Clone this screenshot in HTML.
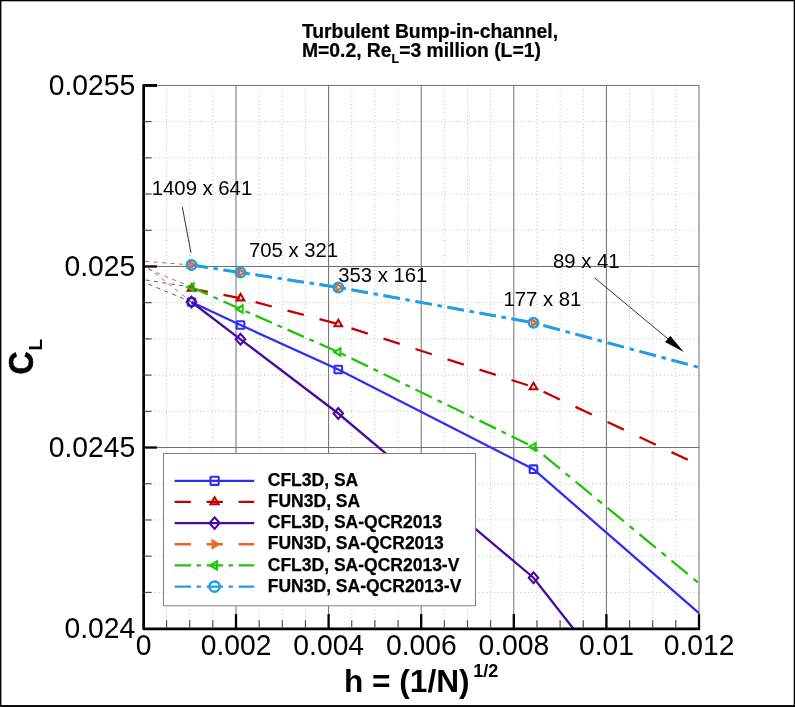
<!DOCTYPE html>
<html><head><meta charset="utf-8"><title>Turbulent Bump-in-channel</title>
<style>
html,body{margin:0;padding:0;background:#fff;}
body{width:795px;height:707px;overflow:hidden;font-family:"Liberation Sans",sans-serif;}
svg{display:block;font-family:"Liberation Sans",sans-serif;will-change:transform;}
text{font-family:"Liberation Sans",sans-serif;fill:#000;}
.b{font-weight:bold;}
</style></head><body>
<svg width="795" height="707" viewBox="0 0 795 707">
<rect x="0" y="0" width="795" height="707" fill="#fff"/>
<g stroke="#bcbcbc" stroke-width="1" stroke-dasharray="1 2.77" fill="none">
<line x1="166.55" y1="85.40" x2="166.55" y2="628.60"/>
<line x1="189.70" y1="85.40" x2="189.70" y2="628.60"/>
<line x1="212.85" y1="85.40" x2="212.85" y2="628.60"/>
<line x1="259.15" y1="85.40" x2="259.15" y2="628.60"/>
<line x1="282.30" y1="85.40" x2="282.30" y2="628.60"/>
<line x1="305.45" y1="85.40" x2="305.45" y2="628.60"/>
<line x1="351.75" y1="85.40" x2="351.75" y2="628.60"/>
<line x1="374.90" y1="85.40" x2="374.90" y2="628.60"/>
<line x1="398.05" y1="85.40" x2="398.05" y2="628.60"/>
<line x1="444.35" y1="85.40" x2="444.35" y2="628.60"/>
<line x1="467.50" y1="85.40" x2="467.50" y2="628.60"/>
<line x1="490.65" y1="85.40" x2="490.65" y2="628.60"/>
<line x1="536.95" y1="85.40" x2="536.95" y2="628.60"/>
<line x1="560.10" y1="85.40" x2="560.10" y2="628.60"/>
<line x1="583.25" y1="85.40" x2="583.25" y2="628.60"/>
<line x1="629.55" y1="85.40" x2="629.55" y2="628.60"/>
<line x1="652.70" y1="85.40" x2="652.70" y2="628.60"/>
<line x1="675.85" y1="85.40" x2="675.85" y2="628.60"/>
<line x1="143.40" y1="592.39" x2="699.00" y2="592.39"/>
<line x1="143.40" y1="556.17" x2="699.00" y2="556.17"/>
<line x1="143.40" y1="519.96" x2="699.00" y2="519.96"/>
<line x1="143.40" y1="483.75" x2="699.00" y2="483.75"/>
<line x1="143.40" y1="411.32" x2="699.00" y2="411.32"/>
<line x1="143.40" y1="375.11" x2="699.00" y2="375.11"/>
<line x1="143.40" y1="338.89" x2="699.00" y2="338.89"/>
<line x1="143.40" y1="302.68" x2="699.00" y2="302.68"/>
<line x1="143.40" y1="230.25" x2="699.00" y2="230.25"/>
<line x1="143.40" y1="194.04" x2="699.00" y2="194.04"/>
<line x1="143.40" y1="157.83" x2="699.00" y2="157.83"/>
<line x1="143.40" y1="121.61" x2="699.00" y2="121.61"/>
</g>
<g stroke="#6e6e6e" stroke-width="1" fill="none">
<line x1="236.00" y1="85.40" x2="236.00" y2="628.60"/>
<line x1="328.60" y1="85.40" x2="328.60" y2="628.60"/>
<line x1="421.20" y1="85.40" x2="421.20" y2="628.60"/>
<line x1="513.80" y1="85.40" x2="513.80" y2="628.60"/>
<line x1="606.40" y1="85.40" x2="606.40" y2="628.60"/>
<line x1="699.00" y1="85.40" x2="699.00" y2="628.60"/>
<line x1="143.40" y1="447.53" x2="699.00" y2="447.53"/>
<line x1="143.40" y1="266.47" x2="699.00" y2="266.47"/>
<line x1="143.40" y1="85.40" x2="699.00" y2="85.40"/>
</g>
<defs><clipPath id="cp"><rect x="143.40" y="85.40" width="556.80" height="543.20"/></clipPath></defs>
<g fill="none" stroke-width="0.8" stroke-dasharray="4 4.5" clip-path="url(#cp)">
<line x1="191.5" y1="265" x2="143.4" y2="261.2" stroke="#d03030"/>
<line x1="191.5" y1="287.2" x2="143.4" y2="267" stroke="#d03030"/>
<line x1="191.5" y1="302" x2="143.4" y2="264" stroke="#d03030"/>
<line x1="191.5" y1="287.2" x2="143.4" y2="279.6" stroke="#303030"/>
<line x1="191.5" y1="302" x2="143.4" y2="282" stroke="#303030"/>
</g>
<g fill="none" clip-path="url(#cp)" stroke-linecap="butt">
<path d="M191.50 302.00 L240.50 325.00 L338.30 369.50 L533.50 469.20 L699.00 613.20" stroke="#2e2ef5" stroke-width="2.3"/>
<path d="M191.50 288.60 L207.80 291.79 M223.50 294.87 L239.80 298.06 M255.50 302.17 L271.80 306.49 M287.50 310.65 L303.80 314.96 M319.50 319.12 L335.80 323.44 M351.50 328.36 L367.80 333.62 M383.50 338.69 L399.80 343.95 M415.50 349.02 L431.80 354.28 M447.50 359.34 L463.80 364.60 M479.50 369.67 L495.80 374.93 M511.50 380.00 L527.80 385.26 M543.50 391.81 L559.80 399.50 M575.50 406.89 L591.80 414.58 M607.50 421.98 L623.80 429.66 M639.50 437.06 L655.80 444.74 M671.50 452.14 L687.80 459.82" stroke="#c40000" stroke-width="2.3"/>
<path d="M191.50 302.00 L240.50 339.30 L338.30 413.50 L533.50 577.70 L573.60 629.00" stroke="#4a0aa0" stroke-width="2.3"/>
<path d="M191.50 265.00 L207.80 267.49 M223.50 269.90 L239.80 272.39 M255.50 274.79 L271.80 277.27 M287.50 279.66 L303.80 282.14 M319.50 284.54 L335.80 287.02 M351.50 289.79 L367.80 292.75 M383.50 295.60 L399.80 298.55 M415.50 301.40 L431.80 304.36 M447.50 307.20 L463.80 310.16 M479.50 313.01 L495.80 315.96 M511.50 318.81 L527.80 321.77 M543.50 325.49 L559.80 329.89 M575.50 334.12 L591.80 338.51 M607.50 342.74 L623.80 347.13 M639.50 351.37 L655.80 355.76 M671.50 359.99 L687.80 364.38" stroke="#ee6420" stroke-width="2.3"/>
<path d="M191.50 287.20 L207.90 294.50 M213.50 296.99 L217.90 298.95 M223.50 301.44 L239.90 308.73 M245.50 311.20 L249.90 313.13 M255.50 315.60 L271.90 322.81 M277.50 325.27 L281.90 327.20 M287.50 329.66 L303.90 336.88 M309.50 339.34 L313.90 341.27 M319.50 343.73 L335.90 350.94 M341.50 353.56 L345.90 355.69 M351.50 358.42 L367.90 366.39 M373.50 369.11 L377.90 371.25 M383.50 373.97 L399.90 381.95 M405.50 384.67 L409.90 386.81 M415.50 389.53 L431.90 397.51 M437.50 400.23 L441.90 402.37 M447.50 405.09 L463.90 413.06 M469.50 415.79 L473.90 417.92 M479.50 420.65 L495.90 428.62 M501.50 431.34 L505.90 433.48 M511.50 436.20 L527.90 444.18 M533.50 446.90 L537.90 450.53 M543.50 455.14 L559.90 468.66 M565.50 473.27 L569.90 476.90 M575.50 481.52 L591.90 495.03 M597.50 499.65 L601.90 503.27 M607.50 507.89 L623.90 521.40 M629.50 526.02 L633.90 529.65 M639.50 534.26 L655.90 547.78 M661.50 552.39 L665.90 556.02 M671.50 560.64 L687.90 574.15 M693.50 578.77 L697.90 582.39" stroke="#20c408" stroke-width="2.3"/>
<path d="M191.50 265.00 L207.90 267.51 M213.50 268.37 L217.90 269.04 M223.50 269.90 L239.90 272.41 M245.50 273.26 L249.90 273.93 M255.50 274.79 L271.90 277.28 M277.50 278.14 L281.90 278.81 M287.50 279.66 L303.90 282.16 M309.50 283.01 L313.90 283.68 M319.50 284.54 L335.90 287.03 M341.50 287.98 L345.90 288.78 M351.50 289.79 L367.90 292.77 M373.50 293.78 L377.90 294.58 M383.50 295.60 L399.90 298.57 M405.50 299.59 L409.90 300.38 M415.50 301.40 L431.90 304.37 M437.50 305.39 L441.90 306.19 M447.50 307.20 L463.90 310.18 M469.50 311.19 L473.90 311.99 M479.50 313.01 L495.90 315.98 M501.50 317.00 L505.90 317.79 M511.50 318.81 L527.90 321.78 M533.50 322.80 L537.90 323.99 M543.50 325.49 L559.90 329.91 M565.50 331.42 L569.90 332.61 M575.50 334.12 L591.90 338.54 M597.50 340.05 L601.90 341.23 M607.50 342.74 L623.90 347.16 M629.50 348.67 L633.90 349.86 M639.50 351.37 L655.90 355.79 M661.50 357.29 L665.90 358.48 M671.50 359.99 L687.90 364.41 M693.50 365.92 L697.90 367.10" stroke="#1ea0e8" stroke-width="3.0"/>
</g>
<g>
<rect x="187.70" y="298.20" width="7.60" height="7.60" rx="0.6" fill="none" stroke="#2e2ef5" stroke-width="2.1" stroke-linejoin="miter"/>
<rect x="236.70" y="321.20" width="7.60" height="7.60" rx="0.6" fill="none" stroke="#2e2ef5" stroke-width="2.1" stroke-linejoin="miter"/>
<rect x="334.50" y="365.70" width="7.60" height="7.60" rx="0.6" fill="none" stroke="#2e2ef5" stroke-width="2.1" stroke-linejoin="miter"/>
<rect x="529.70" y="465.40" width="7.60" height="7.60" rx="0.6" fill="none" stroke="#2e2ef5" stroke-width="2.1" stroke-linejoin="miter"/>
<path d="M187.75 290.73 L195.25 290.73 L191.50 284.33 Z" fill="none" stroke="#c40000" stroke-width="2.1" stroke-linejoin="miter"/>
<path d="M236.75 300.33 L244.25 300.33 L240.50 293.93 Z" fill="none" stroke="#c40000" stroke-width="2.1" stroke-linejoin="miter"/>
<path d="M334.55 326.23 L342.05 326.23 L338.30 319.83 Z" fill="none" stroke="#c40000" stroke-width="2.1" stroke-linejoin="miter"/>
<path d="M529.75 389.23 L537.25 389.23 L533.50 382.83 Z" fill="none" stroke="#c40000" stroke-width="2.1" stroke-linejoin="miter"/>
<path d="M186.80 302.00 L191.50 296.60 L196.20 302.00 L191.50 307.40 Z" fill="none" stroke="#4a0aa0" stroke-width="2.1" stroke-linejoin="miter"/>
<path d="M235.80 339.30 L240.50 333.90 L245.20 339.30 L240.50 344.70 Z" fill="none" stroke="#4a0aa0" stroke-width="2.1" stroke-linejoin="miter"/>
<path d="M333.60 413.50 L338.30 408.10 L343.00 413.50 L338.30 418.90 Z" fill="none" stroke="#4a0aa0" stroke-width="2.1" stroke-linejoin="miter"/>
<path d="M528.80 577.70 L533.50 572.30 L538.20 577.70 L533.50 583.10 Z" fill="none" stroke="#4a0aa0" stroke-width="2.1" stroke-linejoin="miter"/>
<path d="M189.58 261.62 L189.58 268.38 L195.34 265.00 Z" fill="none" stroke="#ee6420" stroke-width="2.1" stroke-linejoin="miter"/>
<path d="M238.58 269.12 L238.58 275.88 L244.34 272.50 Z" fill="none" stroke="#ee6420" stroke-width="2.1" stroke-linejoin="miter"/>
<path d="M336.38 284.02 L336.38 290.77 L342.14 287.40 Z" fill="none" stroke="#ee6420" stroke-width="2.1" stroke-linejoin="miter"/>
<path d="M531.58 319.43 L531.58 326.18 L537.34 322.80 Z" fill="none" stroke="#ee6420" stroke-width="2.1" stroke-linejoin="miter"/>
<path d="M193.63 283.45 L193.63 290.95 L187.23 287.20 Z" fill="none" stroke="#20c408" stroke-width="2.1" stroke-linejoin="miter"/>
<path d="M242.63 305.25 L242.63 312.75 L236.23 309.00 Z" fill="none" stroke="#20c408" stroke-width="2.1" stroke-linejoin="miter"/>
<path d="M340.43 348.25 L340.43 355.75 L334.03 352.00 Z" fill="none" stroke="#20c408" stroke-width="2.1" stroke-linejoin="miter"/>
<path d="M535.63 443.15 L535.63 450.65 L529.23 446.90 Z" fill="none" stroke="#20c408" stroke-width="2.1" stroke-linejoin="miter"/>
<circle cx="191.50" cy="265.00" r="4.75" fill="none" stroke="#1ea0e8" stroke-width="2.5"/>
<circle cx="240.50" cy="272.50" r="4.75" fill="none" stroke="#1ea0e8" stroke-width="2.5"/>
<circle cx="338.30" cy="287.40" r="4.75" fill="none" stroke="#1ea0e8" stroke-width="2.5"/>
<circle cx="533.50" cy="322.80" r="4.75" fill="none" stroke="#1ea0e8" stroke-width="2.5"/>
</g>
<g stroke="#000" fill="none">
<path d="M157 85.4 L143.65 85.4 L143.65 628.95 L700.1 628.95" stroke-width="2.7" stroke-linejoin="round" fill="none"/>
<line x1="236.00" y1="628.60" x2="236.00" y2="614.10" stroke-width="2.3"/>
<line x1="328.60" y1="628.60" x2="328.60" y2="614.10" stroke-width="2.3"/>
<line x1="421.20" y1="628.60" x2="421.20" y2="614.10" stroke-width="2.3"/>
<line x1="513.80" y1="628.60" x2="513.80" y2="614.10" stroke-width="2.3"/>
<line x1="606.40" y1="628.60" x2="606.40" y2="614.10" stroke-width="2.3"/>
<line x1="699.00" y1="628.60" x2="699.00" y2="614.10" stroke-width="2.3"/>
<line x1="143.40" y1="447.53" x2="157.00" y2="447.53" stroke-width="2.3"/>
<line x1="143.40" y1="266.47" x2="157.00" y2="266.47" stroke-width="2.3"/>
<line x1="143.40" y1="85.40" x2="157.00" y2="85.40" stroke-width="2.3"/>
<line x1="166.55" y1="628.60" x2="166.55" y2="620.20" stroke-width="1.1" stroke="#444"/>
<line x1="189.70" y1="628.60" x2="189.70" y2="620.20" stroke-width="1.1" stroke="#444"/>
<line x1="212.85" y1="628.60" x2="212.85" y2="620.20" stroke-width="1.1" stroke="#444"/>
<line x1="259.15" y1="628.60" x2="259.15" y2="620.20" stroke-width="1.1" stroke="#444"/>
<line x1="282.30" y1="628.60" x2="282.30" y2="620.20" stroke-width="1.1" stroke="#444"/>
<line x1="305.45" y1="628.60" x2="305.45" y2="620.20" stroke-width="1.1" stroke="#444"/>
<line x1="351.75" y1="628.60" x2="351.75" y2="620.20" stroke-width="1.1" stroke="#444"/>
<line x1="374.90" y1="628.60" x2="374.90" y2="620.20" stroke-width="1.1" stroke="#444"/>
<line x1="398.05" y1="628.60" x2="398.05" y2="620.20" stroke-width="1.1" stroke="#444"/>
<line x1="444.35" y1="628.60" x2="444.35" y2="620.20" stroke-width="1.1" stroke="#444"/>
<line x1="467.50" y1="628.60" x2="467.50" y2="620.20" stroke-width="1.1" stroke="#444"/>
<line x1="490.65" y1="628.60" x2="490.65" y2="620.20" stroke-width="1.1" stroke="#444"/>
<line x1="536.95" y1="628.60" x2="536.95" y2="620.20" stroke-width="1.1" stroke="#444"/>
<line x1="560.10" y1="628.60" x2="560.10" y2="620.20" stroke-width="1.1" stroke="#444"/>
<line x1="583.25" y1="628.60" x2="583.25" y2="620.20" stroke-width="1.1" stroke="#444"/>
<line x1="629.55" y1="628.60" x2="629.55" y2="620.20" stroke-width="1.1" stroke="#444"/>
<line x1="652.70" y1="628.60" x2="652.70" y2="620.20" stroke-width="1.1" stroke="#444"/>
<line x1="675.85" y1="628.60" x2="675.85" y2="620.20" stroke-width="1.1" stroke="#444"/>
<line x1="143.40" y1="592.39" x2="151.50" y2="592.39" stroke-width="1.1" stroke="#444"/>
<line x1="143.40" y1="556.17" x2="151.50" y2="556.17" stroke-width="1.1" stroke="#444"/>
<line x1="143.40" y1="519.96" x2="151.50" y2="519.96" stroke-width="1.1" stroke="#444"/>
<line x1="143.40" y1="483.75" x2="151.50" y2="483.75" stroke-width="1.1" stroke="#444"/>
<line x1="143.40" y1="411.32" x2="151.50" y2="411.32" stroke-width="1.1" stroke="#444"/>
<line x1="143.40" y1="375.11" x2="151.50" y2="375.11" stroke-width="1.1" stroke="#444"/>
<line x1="143.40" y1="338.89" x2="151.50" y2="338.89" stroke-width="1.1" stroke="#444"/>
<line x1="143.40" y1="302.68" x2="151.50" y2="302.68" stroke-width="1.1" stroke="#444"/>
<line x1="143.40" y1="230.25" x2="151.50" y2="230.25" stroke-width="1.1" stroke="#444"/>
<line x1="143.40" y1="194.04" x2="151.50" y2="194.04" stroke-width="1.1" stroke="#444"/>
<line x1="143.40" y1="157.83" x2="151.50" y2="157.83" stroke-width="1.1" stroke="#444"/>
<line x1="143.40" y1="121.61" x2="151.50" y2="121.61" stroke-width="1.1" stroke="#444"/>
</g>
<g font-size="29.3" text-anchor="end">
<text transform="translate(135.3 95.00) scale(0.966 1)">0.0255</text>
<text transform="translate(135.3 276.07) scale(0.966 1)">0.025</text>
<text transform="translate(135.3 457.13) scale(0.966 1)">0.0245</text>
<text transform="translate(135.3 638.20) scale(0.966 1)">0.024</text>
</g>
<g font-size="29.3" text-anchor="middle">
<text transform="translate(143.50 655) scale(0.966 1)">0</text>
<text transform="translate(236.10 655) scale(0.966 1)">0.002</text>
<text transform="translate(328.70 655) scale(0.966 1)">0.004</text>
<text transform="translate(421.30 655) scale(0.966 1)">0.006</text>
<text transform="translate(513.90 655) scale(0.966 1)">0.008</text>
<text transform="translate(606.50 655) scale(0.966 1)">0.01</text>
<text transform="translate(699.10 655) scale(0.966 1)">0.012</text>
</g>
<g class="b" font-size="20.6" stroke="#000" stroke-width="0.25">
<text transform="translate(301.9 37.6) scale(0.938 1)">Turbulent Bump-in-channel,</text>
<text transform="translate(301.9 57.0) scale(0.938 1)">M=0.2, Re<tspan font-size="13.2" dy="5.8">L</tspan><tspan dy="-5.8">=3 million (L=1)</tspan></text>
</g>
<g class="b">
<text x="343.9" y="692" font-size="31.65">h = (1/N)<tspan font-size="18" dy="-14.8" dx="3.6">1/2</tspan></text>
<text transform="translate(32.8 374.4) rotate(-90) scale(0.89 1)" font-size="36" stroke="#000" stroke-width="0.5">C</text>
<text transform="translate(42 350.4) rotate(-90)" font-size="19.2">L</text>
</g>
<g font-size="21.1">
<text transform="translate(151.8 194.8) scale(0.962 1)">1409 x 641</text>
<text transform="translate(248.9 257.2) scale(0.962 1)">705 x 321</text>
<text transform="translate(338.2 282.3) scale(0.962 1)">353 x 161</text>
<text transform="translate(503.4 306.1) scale(0.962 1)">177 x 81</text>
<text transform="translate(553.0 267.6) scale(0.962 1)">89 x 41</text>
</g>
<line x1="182.3" y1="207" x2="191" y2="252.8" stroke="#000" stroke-width="0.8"/>
<line x1="594.4" y1="277.7" x2="672" y2="342.2" stroke="#000" stroke-width="0.8"/>
<path d="M683.8 352 L665.1 342.1 L670.4 336.0 Z" fill="#000"/>
<rect x="163.5" y="453.5" width="312.0" height="152.29999999999995" fill="#fff" stroke="#808080" stroke-width="1"/>
<line x1="174.6" y1="480.8" x2="254.2" y2="480.8" stroke="#2e2ef5" stroke-width="2.3"/>
<rect x="210.50" y="476.70" width="8.21" height="8.21" rx="0.6" fill="none" stroke="#2e2ef5" stroke-width="2.1" stroke-linejoin="miter"/>
<text class="b" x="267.8" y="485.90" font-size="17.5" stroke="#000" stroke-width="0.25">CFL3D, SA</text>
<line x1="174.6" y1="501.95" x2="254.2" y2="501.95" stroke="#c40000" stroke-width="2.3" stroke-dasharray="16.3 15.7"/>
<path d="M210.55 504.25 L218.65 504.25 L214.60 497.34 Z" fill="none" stroke="#c40000" stroke-width="2.1" stroke-linejoin="miter"/>
<text class="b" x="267.8" y="507.05" font-size="17.5" stroke="#000" stroke-width="0.25">FUN3D, SA</text>
<line x1="174.6" y1="523.1" x2="254.2" y2="523.1" stroke="#4a0aa0" stroke-width="2.3"/>
<path d="M209.52 523.10 L214.60 517.27 L219.68 523.10 L214.60 528.93 Z" fill="none" stroke="#4a0aa0" stroke-width="2.1" stroke-linejoin="miter"/>
<text class="b" x="267.8" y="528.20" font-size="17.5" stroke="#000" stroke-width="0.25">CFL3D, SA-QCR2013</text>
<line x1="174.6" y1="544.25" x2="254.2" y2="544.25" stroke="#ee6420" stroke-width="2.3" stroke-dasharray="16.3 15.7"/>
<path d="M212.53 540.61 L212.53 547.89 L218.75 544.25 Z" fill="none" stroke="#ee6420" stroke-width="2.1" stroke-linejoin="miter"/>
<text class="b" x="267.8" y="549.35" font-size="17.5" stroke="#000" stroke-width="0.25">FUN3D, SA-QCR2013</text>
<line x1="174.6" y1="565.4" x2="254.2" y2="565.4" stroke="#20c408" stroke-width="2.3" stroke-dasharray="16.4 5.6 4.4 5.6"/>
<path d="M216.90 561.35 L216.90 569.45 L209.99 565.40 Z" fill="none" stroke="#20c408" stroke-width="2.1" stroke-linejoin="miter"/>
<text class="b" x="267.8" y="570.50" font-size="17.5" stroke="#000" stroke-width="0.25">CFL3D, SA-QCR2013-V</text>
<line x1="174.6" y1="586.55" x2="254.2" y2="586.55" stroke="#1ea0e8" stroke-width="2.3" stroke-dasharray="16.4 5.6 4.4 5.6"/>
<circle cx="214.60" cy="586.55" r="5.13" fill="none" stroke="#1ea0e8" stroke-width="2.5"/>
<text class="b" x="267.8" y="591.65" font-size="17.5" stroke="#000" stroke-width="0.25">FUN3D, SA-QCR2013-V</text>
<rect x="0" y="0" width="795" height="1.3" fill="#000"/>
<rect x="0" y="0" width="1.4" height="707" fill="#000"/>
<rect x="793.7" y="0" width="1.3" height="707" fill="#000"/>
<rect x="0" y="705.1" width="795" height="1.9" fill="#000"/>
</svg></body></html>
